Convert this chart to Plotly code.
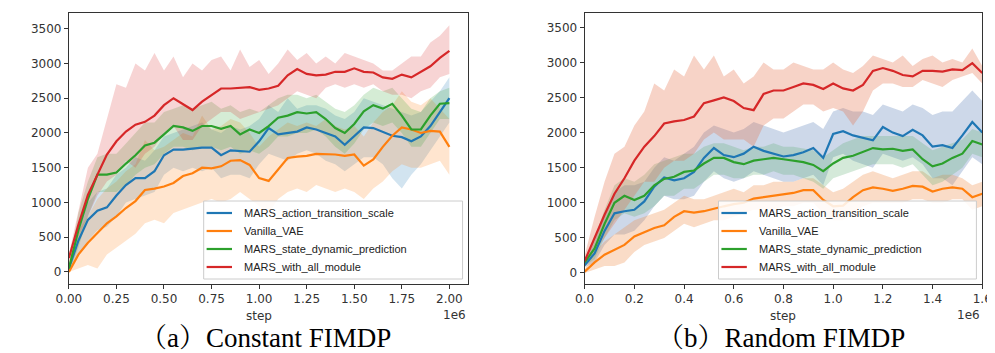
import plotly.graph_objects as go

W, H = 995, 353

# ---------------- Data: (a) Constant FIMDP ----------------
steps_a = [0.00, 0.05, 0.10, 0.15, 0.20, 0.25, 0.30, 0.35, 0.40, 0.45, 0.50, 0.55, 0.60, 0.65,
           0.70, 0.75, 0.80, 0.85, 0.90, 0.95, 1.00, 1.05, 1.10, 1.15, 1.20, 1.25, 1.30, 1.35,
           1.40, 1.45, 1.50, 1.55, 1.60, 1.65, 1.70, 1.75, 1.80, 1.85, 1.90, 1.95, 2.00]

a_scale_mean = [50, 450, 750, 880, 930, 1100, 1250, 1350, 1350, 1450, 1680, 1760, 1760, 1780,
                1790, 1790, 1680, 1750, 1740, 1730, 1880, 2070, 1980, 2000, 2020, 2080, 2050, 2000,
                1950, 1830, 1950, 2080, 2070, 2010, 1960, 1940, 1880, 1950, 2100, 2300, 2500]
a_scale_hi = [100, 650, 1000, 1150, 1200, 1400, 1500, 1650, 1600, 1750, 1950, 2000, 2050, 2100,
              2150, 2050, 2000, 2100, 2050, 2100, 2200, 2400, 2300, 2500, 2350, 2400, 2400, 2350,
              2250, 2200, 2300, 2500, 2450, 2400, 2350, 2300, 2250, 2300, 2450, 2600, 2800]
a_scale_lo = [0, 250, 450, 600, 650, 800, 1000, 1050, 1100, 1150, 1400, 1500, 1450, 1500,
              1450, 1500, 1350, 1400, 1400, 1350, 1550, 1700, 1650, 1600, 1700, 1750, 1700, 1600,
              1550, 1450, 1550, 1650, 1650, 1550, 1350, 1200, 1400, 1550, 1750, 1950, 2150]

a_vae_mean = [0, 250, 420, 560, 700, 800, 920, 1020, 1180, 1200, 1230, 1280, 1380, 1420,
              1500, 1490, 1520, 1600, 1610, 1540, 1350, 1310, 1480, 1640, 1660, 1670, 1700, 1700,
              1690, 1670, 1690, 1530, 1620, 1800, 1960, 2080, 2050, 2000, 2030, 2020, 1800]
a_vae_hi = [150, 600, 800, 1050, 1200, 1300, 1450, 1550, 1900, 1750, 1800, 1900, 2000, 1950,
            2250, 2050, 2100, 2200, 2150, 2000, 1800, 1950, 2050, 2150, 2100, 2150, 2100, 2200,
            2100, 2050, 2100, 1950, 2150, 2300, 2400, 2600, 2450, 2400, 2500, 2350, 2200]
a_vae_lo = [0, 50, 100, 50, 250, 350, 450, 550, 700, 750, 700, 850, 900, 950,
            1000, 1050, 1000, 1050, 1150, 1050, 950, 850, 1050, 1150, 1200, 1150, 1250, 1200,
            1150, 1200, 1150, 1050, 1200, 1300, 1450, 1550, 1500, 1500, 1550, 1600, 1400]

a_state_mean = [50, 600, 1050, 1400, 1400, 1430, 1560, 1680, 1820, 1860, 1980, 2100, 2080, 2030,
                2100, 2100, 2060, 2100, 1980, 2050, 2000, 2100, 2220, 2250, 2300, 2280, 2300, 2200,
                2070, 2000, 2130, 2310, 2400, 2350, 2420, 2250, 2050, 2050, 2250, 2420, 2430]
a_state_hi = [100, 850, 1300, 1650, 1700, 1700, 1850, 2000, 2150, 2150, 2300, 2350, 2400, 2350,
              2400, 2450, 2350, 2400, 2300, 2350, 2300, 2400, 2500, 2550, 2550, 2500, 2550, 2450,
              2350, 2300, 2400, 2550, 2650, 2600, 2650, 2500, 2350, 2300, 2500, 2600, 2650]
a_state_lo = [0, 350, 800, 1150, 1150, 1150, 1250, 1400, 1500, 1550, 1700, 1800, 1800, 1750,
              1800, 1800, 1750, 1800, 1700, 1750, 1700, 1800, 1950, 1950, 2000, 2000, 2050, 1950,
              1800, 1700, 1850, 2050, 2150, 2100, 2150, 2000, 1800, 1800, 2000, 2200, 2200]

a_all_mean = [200, 680, 1110, 1400, 1690, 1880, 2020, 2120, 2160, 2250, 2400, 2500, 2420, 2330,
              2450, 2550, 2640, 2640, 2650, 2660, 2620, 2640, 2680, 2830, 2920, 2850, 2830, 2840,
              2880, 2880, 2930, 2880, 2870, 2800, 2780, 2840, 2800, 2880, 2960, 3080, 3180]
a_all_hi = [250, 900, 1500, 1700, 2200, 2700, 2650, 3000, 2900, 3150, 2900, 3100, 2800, 3000,
            2900, 3050, 3100, 2900, 3200, 2950, 3050, 2850, 3000, 3200, 3050, 3150, 3000, 3100,
            3000, 3150, 3100, 3050, 3000, 2900, 2900, 3000, 3100, 3100, 3300, 3400, 3550]
a_all_lo = [150, 500, 800, 1100, 1300, 1400, 1600, 1500, 1700, 1800, 2000, 2100, 1900, 1900,
            2100, 2200, 2300, 2300, 2200, 2250, 2300, 2350, 2400, 2500, 2600, 2550, 2500, 2650,
            2700, 2650, 2700, 2650, 2700, 2600, 2550, 2550, 2500, 2600, 2650, 2800, 2850]

# ---------------- Data: (b) Random FIMDP ----------------
steps_b = [0.00, 0.04, 0.08, 0.12, 0.16, 0.20, 0.24, 0.28, 0.32, 0.36, 0.40, 0.44, 0.48, 0.52,
           0.56, 0.60, 0.64, 0.68, 0.72, 0.76, 0.80, 0.84, 0.88, 0.92, 0.96, 1.00, 1.04, 1.08,
           1.12, 1.16, 1.20, 1.24, 1.28, 1.32, 1.36, 1.40, 1.44, 1.48, 1.52, 1.56, 1.60]

b_scale_mean = [110, 280, 600, 850, 880, 900, 1020, 1230, 1360, 1320, 1350, 1440, 1640, 1780,
                1680, 1650, 1700, 1800, 1740, 1700, 1660, 1680, 1720, 1780, 1640, 1980, 2020, 1960,
                1920, 1890, 2080, 2000, 1950, 2040, 1960, 1800, 1820, 1780, 1960, 2150, 2000]
b_scale_hi = [150, 450, 850, 1150, 1250, 1250, 1300, 1500, 1650, 1600, 1700, 1800, 2000, 2100,
              2050, 2000, 2050, 2150, 2100, 2050, 2000, 2050, 2100, 2150, 2050, 2300, 2350, 2300,
              2300, 2250, 2400, 2350, 2300, 2400, 2350, 2250, 2300, 2300, 2450, 2600, 2450]
b_scale_lo = [80, 150, 400, 550, 550, 600, 750, 950, 1100, 1050, 1050, 1100, 1300, 1450,
              1350, 1300, 1350, 1450, 1400, 1350, 1300, 1300, 1350, 1400, 1250, 1650, 1700, 1600,
              1550, 1500, 1700, 1650, 1600, 1650, 1550, 1350, 1350, 1250, 1450, 1650, 1550]

b_vae_mean = [20, 150, 260, 330, 400, 520, 580, 640, 680, 800, 880, 860, 880, 920,
              950, 980, 1000, 1060, 1080, 1100, 1110, 1140, 1180, 1180, 1040, 950, 960, 1080,
              1180, 1220, 1200, 1170, 1200, 1240, 1230, 1160, 1200, 1220, 1200, 1080, 1130]
b_vae_hi = [50, 300, 450, 550, 650, 750, 800, 850, 900, 1000, 1100, 1050, 1050, 1100,
            1150, 1200, 1150, 1250, 1250, 1300, 1300, 1300, 1350, 1350, 1250, 1150, 1200, 1300,
            1400, 1450, 1400, 1350, 1400, 1450, 1450, 1350, 1400, 1400, 1350, 1250, 1300]
b_vae_lo = [0, 50, 100, 100, 150, 300, 400, 450, 500, 600, 700, 650, 700, 750,
            750, 800, 850, 900, 900, 900, 950, 950, 1000, 1000, 850, 750, 750, 850,
            950, 1000, 1000, 1000, 1000, 1050, 1050, 1000, 1000, 1050, 1050, 900, 950]

b_state_mean = [150, 350, 700, 1000, 1100, 1040, 1100, 1250, 1340, 1370, 1440, 1460, 1560, 1640,
                1640, 1580, 1550, 1600, 1620, 1640, 1620, 1600, 1580, 1540, 1450, 1560, 1640, 1670,
                1730, 1780, 1760, 1770, 1740, 1760, 1620, 1520, 1560, 1640, 1700, 1880, 1830]
b_state_hi = [200, 500, 900, 1250, 1350, 1300, 1400, 1550, 1600, 1650, 1700, 1700, 1800, 1850,
              1850, 1800, 1750, 1800, 1800, 1850, 1800, 1800, 1780, 1750, 1650, 1750, 1850, 1900,
              1950, 1950, 1950, 1950, 1950, 1950, 1850, 1750, 1800, 1850, 1900, 2050, 2000]
b_state_lo = [100, 200, 500, 750, 850, 800, 850, 950, 1100, 1100, 1200, 1200, 1300, 1400,
              1400, 1350, 1350, 1400, 1400, 1450, 1400, 1400, 1350, 1300, 1200, 1350, 1400, 1450,
              1500, 1550, 1550, 1550, 1500, 1550, 1400, 1250, 1300, 1400, 1500, 1700, 1650]

b_all_mean = [170, 500, 830, 1130, 1350, 1600, 1800, 1950, 2130, 2160, 2180, 2230, 2420, 2460,
              2500, 2450, 2350, 2320, 2550, 2600, 2600, 2650, 2700, 2680, 2620, 2700, 2630, 2600,
              2680, 2880, 2920, 2880, 2820, 2800, 2880, 2880, 2870, 2900, 2890, 2990, 2850]
b_all_hi = [250, 800, 1300, 1700, 1800, 2100, 2300, 2700, 2600, 2900, 2800, 3100, 2900, 3100,
            2800, 2900, 2700, 2800, 3000, 2900, 2900, 3000, 2950, 2900, 2900, 3000, 2900, 2850,
            2950, 3100, 3050, 3000, 3100, 2950, 3050, 3100, 3000, 3050, 3000, 3200, 2950]
b_all_lo = [120, 300, 500, 700, 900, 1100, 1300, 1300, 1500, 1600, 1600, 1700, 1900, 2000,
            1900, 1900, 1900, 1800, 2100, 2200, 2200, 2300, 2400, 2400, 2300, 2350, 2300, 2100,
            2300, 2600, 2700, 2700, 2650, 2650, 2750, 2700, 2650, 2750, 2800, 2850, 2700]

names = ["MARS_action_transition_scale", "Vanilla_VAE",
         "MARS_state_dynamic_prediction", "MARS_with_all_module"]
captions = ["（a）Constant FIMDP", "（b）Random FIMDP"]
line_colors = ["#1f77b4", "#ff7f0e", "#2ca02c", "#d62728"]
band_a = ["rgba(31,119,180,0.2)", "rgba(255,127,14,0.2)",
          "rgba(44,160,44,0.2)", "rgba(214,39,40,0.2)"]
band_b = ["rgba(76,114,176,0.28)", "rgba(240,140,70,0.3)",
          "rgba(85,168,104,0.25)", "rgba(230,110,70,0.3)"]

panels = [
    dict(x=steps_a, xa="x", ya="y", bands=band_a,
         series=[(a_scale_mean, a_scale_hi, a_scale_lo), (a_vae_mean, a_vae_hi, a_vae_lo),
                 (a_state_mean, a_state_hi, a_state_lo), (a_all_mean, a_all_hi, a_all_lo)]),
    dict(x=steps_b, xa="x2", ya="y2", bands=band_b,
         series=[(b_scale_mean, b_scale_hi, b_scale_lo), (b_vae_mean, b_vae_hi, b_vae_lo),
                 (b_state_mean, b_state_hi, b_state_lo), (b_all_mean, b_all_hi, b_all_lo)]),
]

fig = go.Figure()
for p in panels:
    xs = p["x"]
    for i, (m, hi, lo) in enumerate(p["series"]):
        fig.add_trace(go.Scatter(x=list(xs) + list(xs)[::-1], y=list(hi) + list(lo)[::-1],
                                 fill="toself", fillcolor=p["bands"][i], line=dict(width=0),
                                 mode="lines", showlegend=False, hoverinfo="skip",
                                 xaxis=p["xa"], yaxis=p["ya"]))
    for i, (m, hi, lo) in enumerate(p["series"]):
        fig.add_trace(go.Scatter(x=xs, y=m, mode="lines", name=names[i],
                                 line=dict(color=line_colors[i], width=2.2),
                                 showlegend=False, xaxis=p["xa"], yaxis=p["ya"]))

def px(x):
    return x / W

def py(y):
    return 1 - y / H

tick_font = dict(family="DejaVu Sans", size=12, color="#333333")
axis_common = dict(showline=True, linecolor="#333333", linewidth=1, mirror=True,
                   ticks="outside", ticklen=4, tickcolor="#333333", showgrid=False,
                   zeroline=False, tickfont=tick_font)

fig.update_layout(
    width=W, height=H, margin=dict(l=0, r=0, t=0, b=0),
    paper_bgcolor="white", plot_bgcolor="white", showlegend=False,
    xaxis=dict(domain=[px(49), px(458)], range=[0, 2.1], tickvals=[0, 0.25, 0.5, 0.75, 1.0, 1.25, 1.5, 1.75, 2.0],
               tickformat=".2f", anchor="y", **axis_common),
    yaxis=dict(domain=[py(276), py(5)], range=[-173, 3726], tickvals=[0, 500, 1000, 1500, 2000, 2500, 3000, 3500],
               anchor="x", **axis_common),
    xaxis2=dict(domain=[px(577), px(984)], range=[0, 1.6], tickvals=[0, 0.2, 0.4, 0.6, 0.8, 1.0, 1.2, 1.4, 1.6],
                tickformat=".1f", anchor="y2", **axis_common),
    yaxis2=dict(domain=[py(276), py(5)], range=[-157, 3704], tickvals=[0, 500, 1000, 1500, 2000, 2500, 3000, 3500],
                anchor="x2", **axis_common),
)

annotations = []
shapes = []
lab_font = dict(family="DejaVu Sans", size=12, color="#333333")
cap_font = dict(family="Liberation Serif, Noto Serif CJK SC, Noto Sans CJK SC", size=27, color="black")
for (cx, right_x) in [(244, 458), (780, 984)]:
    annotations.append(dict(x=px(cx), y=py(308), xref="paper", yref="paper", text="step",
                            showarrow=False, font=lab_font, xanchor="center", yanchor="middle"))
    annotations.append(dict(x=px(right_x), y=py(307), xref="paper", yref="paper", text="1e6",
                            showarrow=False, font=lab_font, xanchor="right", yanchor="middle"))
for cx, cap in zip([250, 778], captions):
    annotations.append(dict(x=px(cx), y=py(330), xref="paper", yref="paper", text=cap,
                            showarrow=False, font=cap_font, xanchor="center", yanchor="middle"))

# legends
leg_font = dict(family="Liberation Sans, Arial", size=11, color="#222222")
row_y = [205, 223, 241, 259]
for (bx0, bx1, lx0, lx1, tx) in [(187, 452, 190, 216, 226), (714, 978, 717, 743, 753)]:
    shapes.append(dict(type="rect", xref="paper", yref="paper", x0=px(bx0), x1=px(bx1),
                       y0=py(271), y1=py(193), line=dict(color="#cccccc", width=1),
                       fillcolor="rgba(255,255,255,0.85)", layer="above"))
    for i, ry in enumerate(row_y):
        shapes.append(dict(type="line", xref="paper", yref="paper", x0=px(lx0), x1=px(lx1),
                           y0=py(ry), y1=py(ry), line=dict(color=line_colors[i], width=2.2),
                           layer="above"))
        annotations.append(dict(x=px(tx), y=py(ry), xref="paper", yref="paper", text=names[i],
                                showarrow=False, font=leg_font, xanchor="left", yanchor="middle"))

fig.update_layout(annotations=annotations, shapes=shapes)
fig.write_html("out.html")
